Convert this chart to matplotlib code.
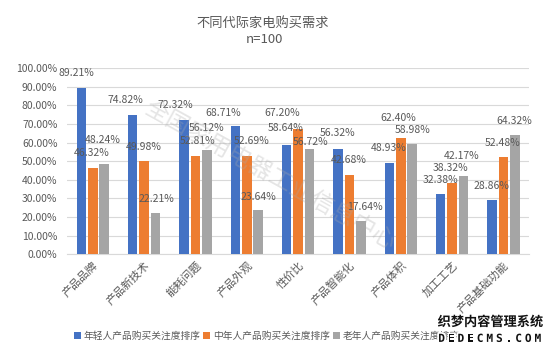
import matplotlib
matplotlib.use("Agg")
import matplotlib.pyplot as plt
import matplotlib.patheffects as pe
import numpy as np

plt.rcParams['font.family'] = ['Noto Sans CJK SC', 'DejaVu Sans']

categories = ['产品品牌', '产品新技术', '能耗问题', '产品外观', '性价比',
              '产品智能化', '产品体积', '加工工艺', '产品基础功能']
young = [89.21, 74.82, 72.32, 68.71, 58.64, 56.32, 48.93, 32.38, 28.86]
middle = [46.32, 49.98, 52.81, 52.69, 67.20, 42.68, 62.40, 38.32, 52.48]
old = [48.24, 22.21, 56.12, 23.64, 56.72, 17.64, 58.98, 42.17, 64.32]
series_names = ['年轻人产品购买关注度排序', '中年人产品购买关注度排序', '老年人产品购买关注度排序']
colors = ['#4472C4', '#ED7D31', '#A5A5A5']

# label nudges (pixels) as the labels sit in the original, relative to bar top
label_dx = [[-5, -7, -9, -12, -1, 0, -1, 0, -1],
            [-1, 0, 2, 5, -16, -1, -3, -2, -1],
            [-1, 1, 0, 0, 1, 4, 0, -2, -1]]
label_dy = [[15, 15, 15, 13, 17, 16, 15, 14, 14],
            [15, 14, 15, 15, 16, 15, 20, 15, 14],
            [24, 14, 22, 13, 7, 14, 14, 20, 14]]

fig = plt.figure(figsize=(5.5, 3.53), dpi=100)
ax = fig.add_axes([0.122, 0.28, 0.84, 0.527])

x = np.arange(len(categories))
w = 0.185
step = 0.222
for i, (vals, name, c) in enumerate(zip([young, middle, old], series_names, colors)):
    pos = x + (i - 1) * step
    ax.bar(pos, vals, width=w, color=c, label=name, zorder=3)
    for j, (p, v) in enumerate(zip(pos, vals)):
        ax.annotate('%.2f%%' % v, (p, v),
                    xytext=(label_dx[i][j] * 0.72, label_dy[i][j] * 0.72),
                    textcoords='offset points', ha='center', va='center',
                    fontsize=7.5, color='#595959', zorder=4)

ax.set_ylim(0, 100)
ax.set_xlim(-0.5, len(categories) - 0.5)
ax.set_yticks(np.arange(0, 101, 10))
ax.set_yticklabels(['%.2f%%' % t for t in np.arange(0, 101, 10)])
ax.grid(axis='y', color='#D9D9D9', linewidth=0.8, zorder=0)
for s in ['top', 'right', 'left']:
    ax.spines[s].set_visible(False)
ax.spines['bottom'].set_color('#D9D9D9')
ax.tick_params(axis='y', length=0, labelsize=7.5, colors='#595959', pad=7)
ax.tick_params(axis='x', length=0, labelsize=8, colors='#595959', pad=4)
ax.set_xticks(x)
ax.set_xticklabels(categories, rotation=45, ha='right', rotation_mode='anchor')

fig.text(0.478, 0.935, '不同代际家电购买需求', ha='center', va='center',
         fontsize=9.5, color='#595959')
fig.text(0.48, 0.888, 'n=100', ha='center', va='center',
         fontsize=9.5, color='#595959')

leg = fig.legend(loc='center', bbox_to_anchor=(0.485, 0.048), ncol=3, frameon=False,
                 fontsize=7, handlelength=0.7, handleheight=0.7, handletextpad=0.3,
                 columnspacing=0.3, labelcolor='#595959')

# watermarks seen on the source image
fig.text(0.49, 0.50, '全国家用电器工业信息中心', ha='center', va='center',
         rotation=-29, fontsize=17, color='#AAAAAA', alpha=0.3, zorder=10)
fig.text(0.892, 0.088, '织梦内容管理系统', ha='center', va='center',
         fontsize=9.5, fontweight='bold', color='#111111', zorder=11,
         path_effects=[pe.withStroke(linewidth=2.5, foreground='white')])
logo = 'DEDECMS.COM'
for k, ch in enumerate(logo):
    fig.text(0.803 + k * 0.0175, 0.04, ch, ha='center', va='center',
             fontsize=8, fontweight='bold', color='#111111', zorder=11,
             family='DejaVu Sans Mono',
             path_effects=[pe.withStroke(linewidth=2.5, foreground='white')])

fig.savefig('out.png', dpi=100)
